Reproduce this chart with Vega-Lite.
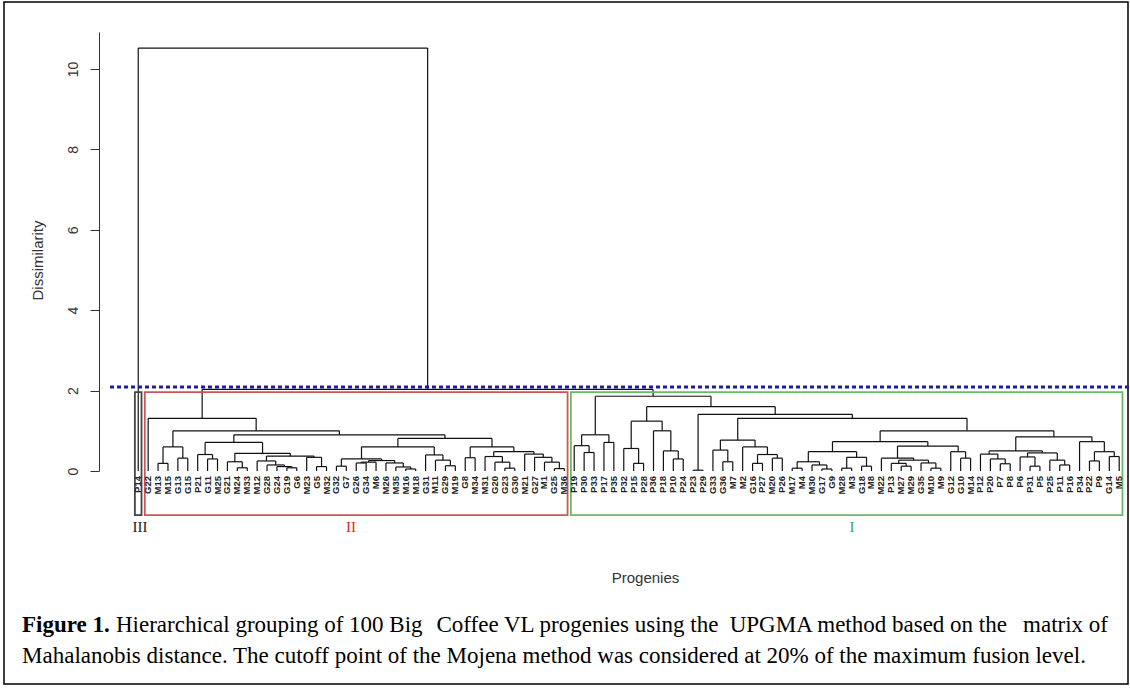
{
  "$schema": "https://vega.github.io/schema/vega-lite/v6.json",
  "width": 1124,
  "height": 682,
  "autosize": {"type": "none"},
  "padding": {"left": 4, "top": 2, "right": 2, "bottom": 4},
  "background": "#ffffff",
  "config": {"view": {"stroke": "#000000", "strokeWidth": 1.5}},
  "datasets": {
    "merges": [
      {"xl": 3, "yl": 0, "xr": 4, "yr": 0, "h": 0.19},
      {"xl": 5, "yl": 0, "xr": 6, "yr": 0, "h": 0.32},
      {"xl": 3.5, "yl": 0.19, "xr": 5.5, "yr": 0.32, "h": 0.6},
      {"xl": 8, "yl": 0, "xr": 9, "yr": 0, "h": 0.3},
      {"xl": 7, "yl": 0, "xr": 8.5, "yr": 0.3, "h": 0.41},
      {"xl": 11, "yl": 0, "xr": 12, "yr": 0, "h": 0.08},
      {"xl": 10, "yl": 0, "xr": 11.5, "yr": 0.08, "h": 0.23},
      {"xl": 16, "yl": 0, "xr": 17, "yr": 0, "h": 0.08},
      {"xl": 15, "yl": 0, "xr": 16.5, "yr": 0.08, "h": 0.11},
      {"xl": 14, "yl": 0, "xr": 15.75, "yr": 0.11, "h": 0.15},
      {"xl": 13, "yl": 0, "xr": 14.875, "yr": 0.15, "h": 0.25},
      {"xl": 19, "yl": 0, "xr": 20, "yr": 0, "h": 0.11},
      {"xl": 18, "yl": 0, "xr": 19.5, "yr": 0.11, "h": 0.34},
      {"xl": 13.9375, "yl": 0.25, "xr": 18.75, "yr": 0.34, "h": 0.37},
      {"xl": 10.75, "yl": 0.23, "xr": 16.34375, "yr": 0.37, "h": 0.44},
      {"xl": 7.75, "yl": 0.41, "xr": 13.546875, "yr": 0.44, "h": 0.71},
      {"xl": 21, "yl": 0, "xr": 22, "yr": 0, "h": 0.12},
      {"xl": 23, "yl": 0, "xr": 24, "yr": 0, "h": 0.2},
      {"xl": 23.5, "yl": 0.2, "xr": 25, "yr": 0, "h": 0.22},
      {"xl": 28, "yl": 0, "xr": 29, "yr": 0, "h": 0.05},
      {"xl": 27, "yl": 0, "xr": 28.5, "yr": 0.05, "h": 0.1},
      {"xl": 26, "yl": 0, "xr": 27.75, "yr": 0.1, "h": 0.2},
      {"xl": 24.25, "yl": 0.22, "xr": 26.875, "yr": 0.2, "h": 0.26},
      {"xl": 21.5, "yl": 0.12, "xr": 25.5625, "yr": 0.26, "h": 0.3},
      {"xl": 32, "yl": 0, "xr": 33, "yr": 0, "h": 0.13},
      {"xl": 31, "yl": 0, "xr": 32.5, "yr": 0.13, "h": 0.27},
      {"xl": 30, "yl": 0, "xr": 31.75, "yr": 0.27, "h": 0.4},
      {"xl": 23.53125, "yl": 0.3, "xr": 30.875, "yr": 0.4, "h": 0.6},
      {"xl": 34, "yl": 0, "xr": 35, "yr": 0, "h": 0.33},
      {"xl": 38, "yl": 0, "xr": 39, "yr": 0, "h": 0.07},
      {"xl": 37, "yl": 0, "xr": 38.5, "yr": 0.07, "h": 0.22},
      {"xl": 36, "yl": 0, "xr": 37.75, "yr": 0.22, "h": 0.36},
      {"xl": 43, "yl": 0, "xr": 44, "yr": 0, "h": 0.06},
      {"xl": 42, "yl": 0, "xr": 43.5, "yr": 0.06, "h": 0.22},
      {"xl": 41, "yl": 0, "xr": 42.75, "yr": 0.22, "h": 0.34},
      {"xl": 40, "yl": 0, "xr": 41.875, "yr": 0.34, "h": 0.42},
      {"xl": 36.875, "yl": 0.36, "xr": 40.9375, "yr": 0.42, "h": 0.48},
      {"xl": 34.5, "yl": 0.33, "xr": 38.90625, "yr": 0.48, "h": 0.6},
      {"xl": 27.203125, "yl": 0.6, "xr": 36.703125, "yr": 0.6, "h": 0.81},
      {"xl": 10.6484375, "yl": 0.71, "xr": 31.953125, "yr": 0.81, "h": 0.9},
      {"xl": 4.5, "yl": 0.6, "xr": 21.30078125, "yr": 0.9, "h": 1.0},
      {"xl": 2, "yl": 0, "xr": 12.900390625, "yr": 1.0, "h": 1.31},
      {"xl": 46, "yl": 0, "xr": 47, "yr": 0, "h": 0.46},
      {"xl": 45, "yl": 0, "xr": 46.5, "yr": 0.46, "h": 0.63},
      {"xl": 48, "yl": 0, "xr": 49, "yr": 0, "h": 0.71},
      {"xl": 45.75, "yl": 0.63, "xr": 48.5, "yr": 0.71, "h": 0.9},
      {"xl": 51, "yl": 0, "xr": 52, "yr": 0, "h": 0.19},
      {"xl": 50, "yl": 0, "xr": 51.5, "yr": 0.19, "h": 0.56},
      {"xl": 55, "yl": 0, "xr": 56, "yr": 0, "h": 0.3},
      {"xl": 54, "yl": 0, "xr": 55.5, "yr": 0.3, "h": 0.5},
      {"xl": 53, "yl": 0, "xr": 54.75, "yr": 0.5, "h": 1.0},
      {"xl": 50.75, "yl": 0.56, "xr": 53.875, "yr": 1.0, "h": 1.24},
      {"xl": 57, "yl": 0, "xr": 58, "yr": 0, "h": 0.02},
      {"xl": 60, "yl": 0, "xr": 61, "yr": 0, "h": 0.23},
      {"xl": 59, "yl": 0, "xr": 60.5, "yr": 0.23, "h": 0.52},
      {"xl": 63, "yl": 0, "xr": 64, "yr": 0, "h": 0.19},
      {"xl": 65, "yl": 0, "xr": 66, "yr": 0, "h": 0.32},
      {"xl": 63.5, "yl": 0.19, "xr": 65.5, "yr": 0.32, "h": 0.41},
      {"xl": 62, "yl": 0, "xr": 64.5, "yr": 0.41, "h": 0.6},
      {"xl": 59.75, "yl": 0.52, "xr": 63.25, "yr": 0.6, "h": 0.77},
      {"xl": 67, "yl": 0, "xr": 68, "yr": 0, "h": 0.07},
      {"xl": 70, "yl": 0, "xr": 71, "yr": 0, "h": 0.05},
      {"xl": 69, "yl": 0, "xr": 70.5, "yr": 0.05, "h": 0.15},
      {"xl": 67.5, "yl": 0.07, "xr": 69.75, "yr": 0.15, "h": 0.23},
      {"xl": 72, "yl": 0, "xr": 73, "yr": 0, "h": 0.07},
      {"xl": 74, "yl": 0, "xr": 75, "yr": 0, "h": 0.12},
      {"xl": 72.5, "yl": 0.07, "xr": 74.5, "yr": 0.12, "h": 0.34},
      {"xl": 68.625, "yl": 0.23, "xr": 73.5, "yr": 0.34, "h": 0.48},
      {"xl": 78, "yl": 0, "xr": 79, "yr": 0, "h": 0.12},
      {"xl": 77, "yl": 0, "xr": 78.5, "yr": 0.12, "h": 0.19},
      {"xl": 81, "yl": 0, "xr": 82, "yr": 0, "h": 0.07},
      {"xl": 80, "yl": 0, "xr": 81.5, "yr": 0.07, "h": 0.2},
      {"xl": 77.75, "yl": 0.19, "xr": 80.75, "yr": 0.2, "h": 0.27},
      {"xl": 76, "yl": 0, "xr": 79.25, "yr": 0.27, "h": 0.32},
      {"xl": 84, "yl": 0, "xr": 85, "yr": 0, "h": 0.32},
      {"xl": 83, "yl": 0, "xr": 84.5, "yr": 0.32, "h": 0.48},
      {"xl": 77.625, "yl": 0.32, "xr": 83.75, "yr": 0.48, "h": 0.62},
      {"xl": 71.0625, "yl": 0.48, "xr": 80.6875, "yr": 0.62, "h": 0.73},
      {"xl": 88, "yl": 0, "xr": 89, "yr": 0, "h": 0.18},
      {"xl": 87, "yl": 0, "xr": 88.5, "yr": 0.18, "h": 0.3},
      {"xl": 86, "yl": 0, "xr": 87.75, "yr": 0.3, "h": 0.42},
      {"xl": 91, "yl": 0, "xr": 92, "yr": 0, "h": 0.12},
      {"xl": 90, "yl": 0, "xr": 91.5, "yr": 0.12, "h": 0.35},
      {"xl": 94, "yl": 0, "xr": 95, "yr": 0, "h": 0.15},
      {"xl": 93, "yl": 0, "xr": 94.5, "yr": 0.15, "h": 0.27},
      {"xl": 90.75, "yl": 0.35, "xr": 93.75, "yr": 0.27, "h": 0.45},
      {"xl": 86.875, "yl": 0.42, "xr": 92.25, "yr": 0.45, "h": 0.5},
      {"xl": 97, "yl": 0, "xr": 98, "yr": 0, "h": 0.25},
      {"xl": 99, "yl": 0, "xr": 100, "yr": 0, "h": 0.36},
      {"xl": 97.5, "yl": 0.25, "xr": 99.5, "yr": 0.36, "h": 0.48},
      {"xl": 96, "yl": 0, "xr": 98.5, "yr": 0.48, "h": 0.73},
      {"xl": 89.5625, "yl": 0.5, "xr": 97.25, "yr": 0.73, "h": 0.85},
      {"xl": 75.875, "yl": 0.73, "xr": 93.40625, "yr": 0.85, "h": 1.0},
      {"xl": 61.5, "yl": 0.77, "xr": 84.640625, "yr": 1.0, "h": 1.31},
      {"xl": 57.5, "yl": 0.02, "xr": 73.0703125, "yr": 1.31, "h": 1.41},
      {"xl": 52.3125, "yl": 1.24, "xr": 65.28515625, "yr": 1.41, "h": 1.6},
      {"xl": 47.125, "yl": 0.9, "xr": 58.798828125, "yr": 1.6, "h": 1.86},
      {"xl": 7.4501953, "yl": 1.31, "xr": 52.9619141, "yr": 1.86, "h": 2.03},
      {"xl": 1, "yl": 0, "xr": 30.2060547, "yr": 2.03, "h": 10.52}
    ],
    "leaves": [
      {"pos": 1, "name": "P14"}, {"pos": 2, "name": "G22"}, {"pos": 3, "name": "M13"}, {"pos": 4, "name": "M15"},
      {"pos": 5, "name": "G13"}, {"pos": 6, "name": "G15"}, {"pos": 7, "name": "P21"}, {"pos": 8, "name": "G11"},
      {"pos": 9, "name": "M25"}, {"pos": 10, "name": "G21"}, {"pos": 11, "name": "M24"}, {"pos": 12, "name": "M33"},
      {"pos": 13, "name": "M12"}, {"pos": 14, "name": "G28"}, {"pos": 15, "name": "G24"}, {"pos": 16, "name": "G19"},
      {"pos": 17, "name": "G6"}, {"pos": 18, "name": "M23"}, {"pos": 19, "name": "G5"}, {"pos": 20, "name": "M32"},
      {"pos": 21, "name": "G32"}, {"pos": 22, "name": "G7"}, {"pos": 23, "name": "G26"}, {"pos": 24, "name": "G34"},
      {"pos": 25, "name": "M6"}, {"pos": 26, "name": "M26"}, {"pos": 27, "name": "M35"}, {"pos": 28, "name": "M16"},
      {"pos": 29, "name": "M18"}, {"pos": 30, "name": "G31"}, {"pos": 31, "name": "M11"}, {"pos": 32, "name": "G29"},
      {"pos": 33, "name": "M19"}, {"pos": 34, "name": "G8"}, {"pos": 35, "name": "M34"}, {"pos": 36, "name": "M31"},
      {"pos": 37, "name": "G20"}, {"pos": 38, "name": "G23"}, {"pos": 39, "name": "G30"}, {"pos": 40, "name": "M21"},
      {"pos": 41, "name": "G27"}, {"pos": 42, "name": "M1"}, {"pos": 43, "name": "G25"}, {"pos": 44, "name": "M36"},
      {"pos": 45, "name": "P19"}, {"pos": 46, "name": "P30"}, {"pos": 47, "name": "P33"}, {"pos": 48, "name": "P17"},
      {"pos": 49, "name": "P35"}, {"pos": 50, "name": "P32"}, {"pos": 51, "name": "P15"}, {"pos": 52, "name": "P28"},
      {"pos": 53, "name": "P36"}, {"pos": 54, "name": "P18"}, {"pos": 55, "name": "P10"}, {"pos": 56, "name": "P24"},
      {"pos": 57, "name": "P23"}, {"pos": 58, "name": "P29"}, {"pos": 59, "name": "G33"}, {"pos": 60, "name": "G36"},
      {"pos": 61, "name": "M7"}, {"pos": 62, "name": "M2"}, {"pos": 63, "name": "G16"}, {"pos": 64, "name": "P27"},
      {"pos": 65, "name": "M20"}, {"pos": 66, "name": "P26"}, {"pos": 67, "name": "M17"}, {"pos": 68, "name": "M4"},
      {"pos": 69, "name": "M30"}, {"pos": 70, "name": "G17"}, {"pos": 71, "name": "G9"}, {"pos": 72, "name": "M28"},
      {"pos": 73, "name": "M3"}, {"pos": 74, "name": "G18"}, {"pos": 75, "name": "M8"}, {"pos": 76, "name": "M22"},
      {"pos": 77, "name": "P13"}, {"pos": 78, "name": "M27"}, {"pos": 79, "name": "M29"}, {"pos": 80, "name": "G35"},
      {"pos": 81, "name": "M10"}, {"pos": 82, "name": "M9"}, {"pos": 83, "name": "G12"}, {"pos": 84, "name": "G10"},
      {"pos": 85, "name": "M14"}, {"pos": 86, "name": "P12"}, {"pos": 87, "name": "P20"}, {"pos": 88, "name": "P7"},
      {"pos": 89, "name": "P8"}, {"pos": 90, "name": "P6"}, {"pos": 91, "name": "P31"}, {"pos": 92, "name": "P5"},
      {"pos": 93, "name": "P25"}, {"pos": 94, "name": "P11"}, {"pos": 95, "name": "P16"}, {"pos": 96, "name": "P34"},
      {"pos": 97, "name": "P22"}, {"pos": 98, "name": "P9"}, {"pos": 99, "name": "G14"}, {"pos": 100, "name": "M5"}
    ],
    "groups": [
      {"group": "III", "left": 0.66, "right": 1.33, "top": 1.96, "bottom": -1.1, "labelPos": 1.18},
      {"group": "II", "left": 1.66, "right": 44.33, "top": 1.96, "bottom": -1.1, "labelPos": 22.47},
      {"group": "I", "left": 44.66, "right": 100.33, "top": 1.96, "bottom": -1.1, "labelPos": 73.03}
    ],
    "cutoff": [{"cutoff": 2.09, "from": -1.85, "to": 101.09}]
  },
  "layer": [
    {
      "data": {"name": "merges"},
      "mark": {"type": "rule", "color": "#111111", "strokeWidth": 1.2},
      "encoding": {
        "x": {"field": "xl", "type": "quantitative", "scale": {"domain": [-2.96, 101.09], "range": [95, 1126], "nice": false, "zero": false},
              "axis": {"orient": "bottom", "labels": false, "ticks": false, "domain": false, "grid": false, "title": "Progenies",
                       "titleFont": "Liberation Sans", "titleFontSize": 15, "titleFontWeight": "normal", "titleColor": "#333333",
                       "titleX": 641, "titleY": -107, "titleAlign": "center", "titleBaseline": "middle"}},
        "y": {"field": "yl", "type": "quantitative", "scale": {"domain": [0, 10.92], "range": [469, 30], "nice": false, "zero": false},
              "axis": {"orient": "left", "offset": -95, "values": [0, 2, 4, 6, 8, 10], "format": "d", "tickSize": 9, "grid": false,
                       "labelAngle": -90, "labelAlign": "center", "labelBaseline": "bottom", "labelPadding": 10,
                       "labelFont": "Liberation Sans", "labelFontSize": 14, "labelColor": "#333333",
                       "domainColor": "#333333", "tickColor": "#333333",
                       "title": "Dissimilarity", "titleFont": "Liberation Sans", "titleFontSize": 15, "titleFontWeight": "normal",
                       "titleColor": "#333333", "titleAngle": -90, "titleX": -62, "titleY": 258, "titleAlign": "center", "titleBaseline": "middle"}},
        "y2": {"field": "h"}
      }
    },
    {
      "data": {"name": "merges"},
      "mark": {"type": "rule", "color": "#111111", "strokeWidth": 1.2},
      "encoding": {
        "x": {"field": "xr", "type": "quantitative"},
        "y": {"field": "yr", "type": "quantitative"},
        "y2": {"field": "h"}
      }
    },
    {
      "data": {"name": "merges"},
      "mark": {"type": "rule", "color": "#111111", "strokeWidth": 1.2},
      "encoding": {
        "x": {"field": "xl", "type": "quantitative"},
        "x2": {"field": "xr"},
        "y": {"field": "h", "type": "quantitative"}
      }
    },
    {
      "data": {"name": "groups"},
      "mark": {"type": "rect", "filled": false, "strokeWidth": 1.8},
      "encoding": {
        "x": {"field": "left", "type": "quantitative"},
        "x2": {"field": "right"},
        "y": {"field": "bottom", "type": "quantitative"},
        "y2": {"field": "top"},
        "color": {"field": "group", "type": "nominal", "legend": null,
                  "scale": {"domain": ["III", "II", "I"], "range": ["#444444", "#cc5555", "#66bb66"]}}
      }
    },
    {
      "data": {"name": "cutoff"},
      "mark": {"type": "rule", "color": "#1c1ca8", "strokeWidth": 3, "strokeDash": [4, 3]},
      "encoding": {
        "x": {"field": "from", "type": "quantitative"},
        "x2": {"field": "to"},
        "y": {"field": "cutoff", "type": "quantitative"}
      }
    },
    {
      "data": {"name": "leaves"},
      "mark": {"type": "text", "angle": 270, "align": "right", "baseline": "middle", "dx": -5,
               "font": "Liberation Sans", "fontSize": 9.5, "fontWeight": "bold", "color": "#222222"},
      "encoding": {
        "x": {"field": "pos", "type": "quantitative"},
        "y": {"datum": 0, "type": "quantitative"},
        "text": {"field": "name"}
      }
    },
    {
      "data": {"name": "groups"},
      "mark": {"type": "text", "font": "Liberation Serif", "fontSize": 15, "baseline": "middle", "align": "center"},
      "encoding": {
        "x": {"field": "labelPos", "type": "quantitative"},
        "y": {"datum": -1.39, "type": "quantitative"},
        "text": {"field": "group"},
        "color": {"field": "group", "type": "nominal", "legend": null,
                  "scale": {"domain": ["III", "II", "I"], "range": ["#222222", "#e02828", "#3a9a80"]}}
      }
    },
    {
      "data": {"values": [{"part": "Figure 1."}]},
      "mark": {"type": "text", "font": "Liberation Serif", "fontSize": 23, "fontWeight": "bold", "align": "left", "baseline": "alphabetic", "color": "#000000"},
      "encoding": {
        "x": {"datum": -10.73, "type": "quantitative"},
        "y": {"datum": -4.005, "type": "quantitative"},
        "text": {"field": "part"}
      }
    },
    {
      "data": {"values": [{"part": "Hierarchical grouping of 100 Big"}]},
      "mark": {"type": "text", "font": "Liberation Serif", "fontSize": 23, "align": "left", "baseline": "alphabetic", "color": "#000000"},
      "encoding": {
        "x": {"datum": -1.244, "type": "quantitative"},
        "y": {"datum": -4.005, "type": "quantitative"},
        "text": {"field": "part"}
      }
    },
    {
      "data": {"values": [{"part": "Coffee VL progenies using the"}]},
      "mark": {"type": "text", "font": "Liberation Serif", "fontSize": 23, "align": "left", "baseline": "alphabetic", "color": "#000000"},
      "encoding": {
        "x": {"datum": 31.10, "type": "quantitative"},
        "y": {"datum": -4.005, "type": "quantitative"},
        "text": {"field": "part"}
      }
    },
    {
      "data": {"values": [{"part": "UPGMA method based on the"}]},
      "mark": {"type": "text", "font": "Liberation Serif", "fontSize": 23, "align": "left", "baseline": "alphabetic", "color": "#000000"},
      "encoding": {
        "x": {"datum": 60.69, "type": "quantitative"},
        "y": {"datum": -4.005, "type": "quantitative"},
        "text": {"field": "part"}
      }
    },
    {
      "data": {"values": [{"part": "matrix of"}]},
      "mark": {"type": "text", "font": "Liberation Serif", "fontSize": 23, "align": "right", "baseline": "alphabetic", "color": "#000000"},
      "encoding": {
        "x": {"datum": 98.87, "type": "quantitative"},
        "y": {"datum": -4.005, "type": "quantitative"},
        "text": {"field": "part"}
      }
    },
    {
      "data": {"values": [{"part": "Mahalanobis distance. The cutoff point of the Mojena method was considered at 20% of the maximum fusion level."}]},
      "mark": {"type": "text", "font": "Liberation Serif", "fontSize": 23, "align": "left", "baseline": "alphabetic", "color": "#000000"},
      "encoding": {
        "x": {"datum": -10.73, "type": "quantitative"},
        "y": {"datum": -4.776, "type": "quantitative"},
        "text": {"field": "part"}
      }
    }
  ],
  "resolve": {"scale": {"color": "independent"}}
}
